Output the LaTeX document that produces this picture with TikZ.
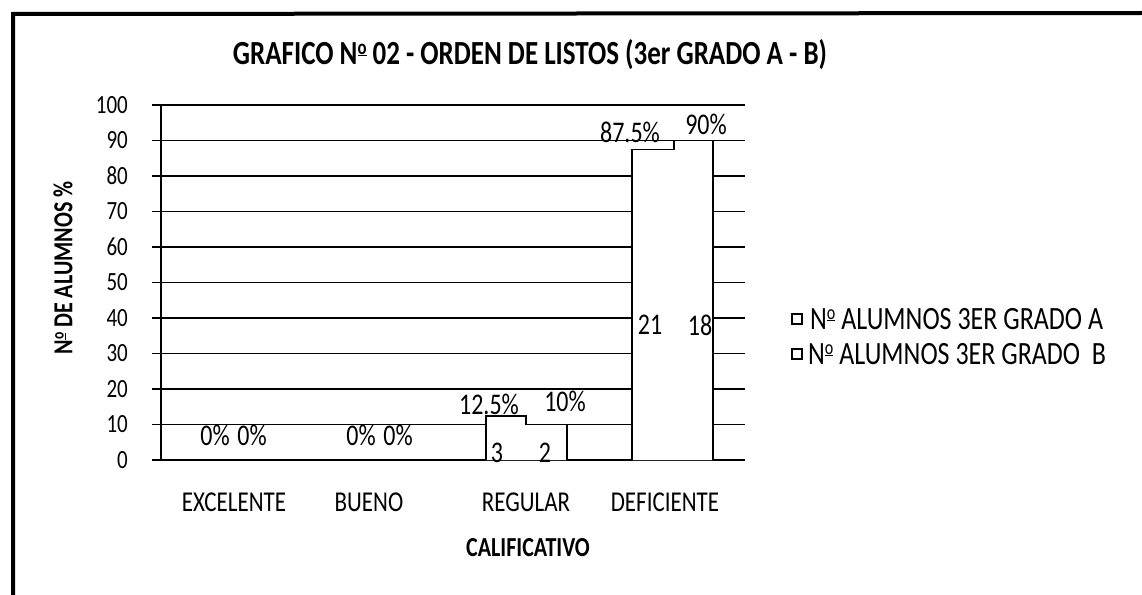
\documentclass[tikz,border=0pt]{standalone}
\usepackage{fontspec}
\usepackage{graphicx}
\setmainfont{Carlito}
\newcommand{\vs}[1]{\scalebox{1}[1.25]{#1}}
\newcommand{\myord}{\raisebox{0.32em}{\scalebox{0.62}{\underline{o}}}}
\begin{document}
\begin{tikzpicture}[x=1pt,y=-1pt,
  frame/.style={line width=4pt,line cap=rect},
  grid/.style={line width=1.1pt},
  bar/.style={line width=1.8pt,fill=white,line join=miter},
  tick/.style={anchor=east,inner sep=0pt,font=\fontsize{21}{21}\selectfont},
  dlab/.style={inner sep=0pt,font=\fontsize{24}{24}\selectfont},
  cat/.style={inner sep=0pt,font=\fontsize{23}{23}\selectfont},
  leg/.style={anchor=west,inner sep=0pt,font=\fontsize{26}{26}\selectfont},
  legbox/.style={draw,line width=1.9pt,minimum size=10pt,inner sep=0pt},
  ttl/.style={inner sep=0pt,font=\bfseries\fontsize{27}{27}\selectfont},
  axt/.style={inner sep=0pt,font=\bfseries\fontsize{22}{22}\selectfont}]
\useasboundingbox (0,0) rectangle (1142,594);
% frame
\draw[frame] (13,594) -- (13,14) -- (1142,13);
% title
\node[ttl] (title) at (530,55) {\vs{GRAFICO N\myord{} 02 - ORDEN DE LISTOS (3er GRADO A - B)}};
% grid lines and tick labels
\foreach \v in {0,10,...,100}{
  \draw[grid] (152,{460-3.55*\v}) -- (745,{460-3.55*\v});
  \node[tick] (t\v) at (128,{460-3.55*\v}) {\vs{\v}};
}
\draw[grid] (161,105) -- (161,460);
% bars
\draw[bar] (486,460) -- (486,415.6) -- (526,415.6) -- (526,424.5) -- (567,424.5) -- (567,460);
\draw[bar] (632,460) -- (632,149.4) -- (674,149.4) -- (674,140.5) -- (713,140.5) -- (713,460);
% data labels
\node[dlab] (e1) at (215,435) {\vs{0\%}};
\node[dlab] (e2) at (252,435) {\vs{0\%}};
\node[dlab] (b1) at (361,435) {\vs{0\%}};
\node[dlab] (b2) at (398,435) {\vs{0\%}};
\node[dlab] (r1) at (489,404) {\vs{12.5\%}};
\node[dlab] (r2) at (565,401) {\vs{10\%}};
\node[dlab] (d1) at (630,132) {\vs{87.5\%}};
\node[dlab] (d2) at (706,124) {\vs{90\%}};
\node[dlab] (n21) at (650,325) {\vs{21}};
\node[dlab] (n18) at (700,325) {\vs{18}};
\node[dlab] (n3) at (497,453) {\vs{3}};
\node[dlab] (n2) at (545,453) {\vs{2}};
% category labels
\node[cat] (c1) at (234,502) {\vs{EXCELENTE}};
\node[cat] (c2) at (369,502) {\vs{BUENO}};
\node[cat] (c3) at (526,502) {\vs{REGULAR}};
\node[cat] (c4) at (665,502) {\vs{DEFICIENTE}};
% axis titles
\node[axt] (xt) at (528,548) {\vs{CALIFICATIVO}};
\node[axt,rotate=90] (yt) at (63,268) {\vs{N\myord{} DE ALUMNOS \%}};
% legend
\node[legbox] (lb1) at (797,319) {};
\node[leg] (l1) at (810,319) {\vs{N\myord{} ALUMNOS 3ER GRADO A}};
\node[legbox] (lb2) at (797,354) {};
\node[leg] (l2) at (808,354) {\vs{N\myord{} ALUMNOS 3ER GRADO\ \ B}};
\end{tikzpicture}
\end{document}
